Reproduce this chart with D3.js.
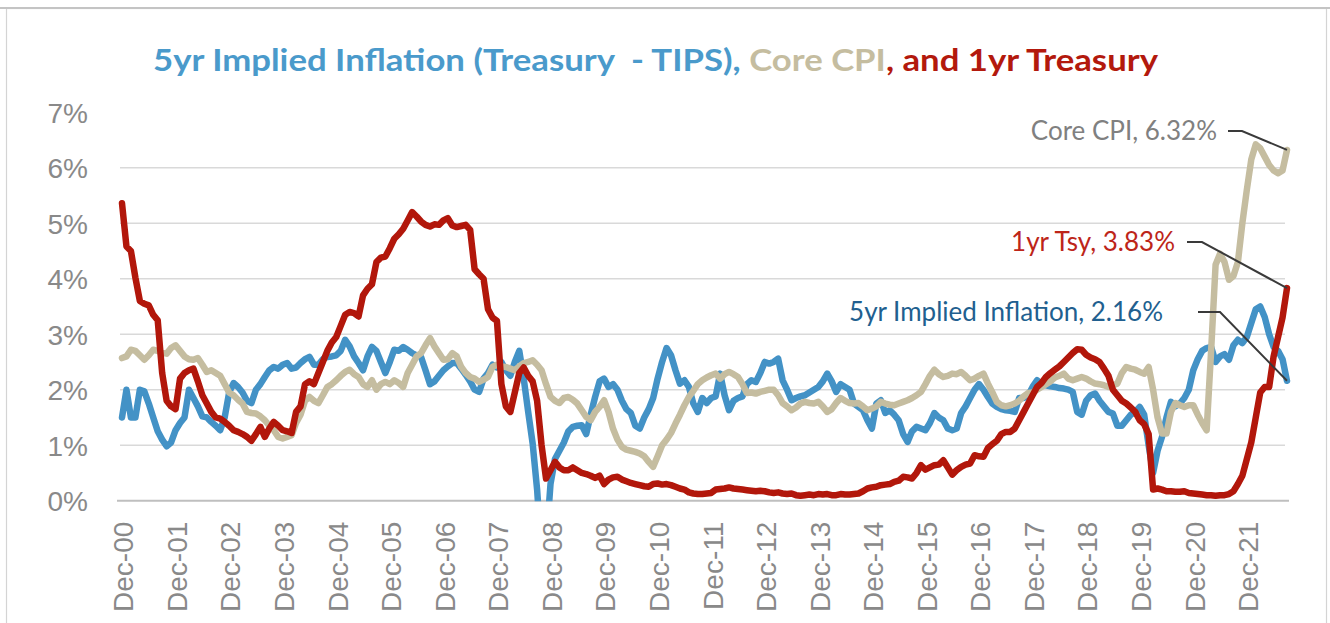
<!DOCTYPE html>
<html>
<head>
<meta charset="utf-8">
<script src="https://cdn.jsdelivr.net/npm/d3@7"></script>
<style>
  html, body { margin: 0; padding: 0; background: #ffffff; }
  svg { display: block; }
</style>
</head>
<body>
<script>
// ---------------- DATA ----------------
// Monthly observations from Dec-2000 onward (one value per month)
const tickLabels = ["Dec-00","Dec-01","Dec-02","Dec-03","Dec-04","Dec-05","Dec-06","Dec-07",
  "Dec-08","Dec-09","Dec-10","Dec-11","Dec-12","Dec-13","Dec-14","Dec-15","Dec-16","Dec-17",
  "Dec-18","Dec-19","Dec-20","Dec-21"];
const yTickValues = [0, 1, 2, 3, 4, 5, 6, 7];

const impliedInflation5y = [
  1.50,2.00,1.50,1.50,2.00,1.97,1.75,1.50,1.25,1.10,
  0.98,1.05,1.27,1.40,1.50,2.00,1.85,1.70,1.52,1.50,
  1.42,1.35,1.27,1.50,1.95,2.12,2.05,1.95,1.80,1.76,
  2.00,2.10,2.23,2.35,2.41,2.38,2.45,2.48,2.38,2.40,
  2.48,2.55,2.59,2.45,2.45,2.55,2.59,2.60,2.62,2.70,
  2.90,2.78,2.60,2.48,2.35,2.60,2.77,2.70,2.50,2.30,
  2.50,2.72,2.70,2.77,2.72,2.66,2.62,2.59,2.35,2.10,
  2.15,2.25,2.35,2.42,2.48,2.48,2.38,2.27,2.15,2.00,
  1.96,2.20,2.30,2.45,2.40,2.50,2.35,2.25,2.50,2.70,
  2.20,1.60,1.03,0.20,-1.00,-0.80,0.30,0.75,0.90,1.05,
  1.25,1.33,1.35,1.36,1.20,1.55,1.87,2.15,2.20,2.05,
  2.10,2.00,1.80,1.65,1.58,1.35,1.30,1.50,1.65,1.85,
  2.20,2.50,2.75,2.62,2.35,2.11,2.17,2.05,1.75,1.60,
  1.85,1.76,1.85,1.88,2.29,1.90,1.63,1.80,1.85,1.88,
  2.10,2.17,2.14,2.30,2.50,2.47,2.50,2.56,2.17,2.00,
  1.81,1.85,1.88,1.90,1.95,2.00,2.05,2.15,2.29,2.15,
  1.96,2.10,2.05,2.00,1.75,1.69,1.63,1.45,1.30,1.75,
  1.81,1.58,1.63,1.55,1.45,1.20,1.06,1.25,1.33,1.30,
  1.27,1.40,1.58,1.50,1.45,1.30,1.27,1.30,1.58,1.70,
  1.85,2.00,2.10,2.00,1.87,1.75,1.69,1.65,1.63,1.62,
  1.60,1.85,1.85,1.90,2.05,2.17,2.10,2.08,2.06,2.05,
  2.03,2.02,2.00,1.96,1.60,1.55,1.80,1.90,1.93,1.80,
  1.70,1.60,1.57,1.35,1.35,1.45,1.55,1.60,1.69,1.55,
  1.00,0.50,0.90,1.15,1.50,1.78,1.70,1.75,1.85,2.00,
  2.35,2.55,2.70,2.75,2.77,2.50,2.60,2.64,2.54,2.80,
  2.90,2.84,2.95,3.20,3.45,3.50,3.31,3.00,2.77,2.70,
  2.55,2.16
];

const coreCPI = [
  2.57,2.60,2.72,2.70,2.62,2.54,2.62,2.72,2.70,2.66,
  2.65,2.75,2.80,2.70,2.60,2.55,2.54,2.57,2.45,2.32,
  2.35,2.30,2.25,2.10,1.95,1.90,1.82,1.75,1.60,1.58,
  1.57,1.52,1.45,1.35,1.27,1.15,1.12,1.15,1.18,1.40,
  1.55,1.80,1.87,1.80,1.76,1.90,2.05,2.10,2.17,2.25,
  2.32,2.36,2.28,2.23,2.10,2.05,2.17,2.00,2.10,2.14,
  2.10,2.17,2.12,2.05,2.30,2.45,2.60,2.66,2.80,2.93,
  2.78,2.66,2.54,2.55,2.66,2.60,2.41,2.30,2.23,2.20,
  2.14,2.18,2.23,2.41,2.45,2.42,2.41,2.38,2.35,2.42,
  2.48,2.50,2.53,2.45,2.35,2.10,1.87,1.80,1.76,1.85,
  1.87,1.82,1.75,1.63,1.51,1.45,1.60,1.69,1.81,1.60,
  1.30,1.10,0.97,0.92,0.90,0.88,0.85,0.80,0.70,0.61,
  0.80,1.00,1.10,1.22,1.39,1.55,1.72,1.87,1.98,2.10,
  2.17,2.22,2.26,2.29,2.20,2.28,2.32,2.28,2.23,2.10,
  1.94,1.95,1.93,1.96,1.98,2.00,2.00,1.90,1.76,1.70,
  1.63,1.68,1.75,1.78,1.76,1.75,1.78,1.70,1.60,1.65,
  1.76,1.85,1.80,1.76,1.75,1.76,1.70,1.63,1.66,1.70,
  1.78,1.75,1.73,1.72,1.75,1.78,1.81,1.85,1.90,1.96,
  2.10,2.25,2.36,2.28,2.23,2.25,2.29,2.28,2.32,2.25,
  2.17,2.20,2.25,2.29,2.11,1.95,1.78,1.72,1.70,1.72,
  1.75,1.80,1.88,1.94,1.95,2.00,2.05,2.10,2.15,2.22,
  2.25,2.29,2.20,2.17,2.20,2.23,2.20,2.15,2.11,2.10,
  2.08,2.05,2.08,2.11,2.30,2.41,2.38,2.36,2.32,2.29,
  2.41,2.00,1.50,1.21,1.21,1.60,1.76,1.72,1.69,1.72,
  1.72,1.55,1.40,1.27,2.70,4.25,4.45,4.30,3.98,4.05,
  4.30,5.00,5.60,6.15,6.42,6.35,6.20,6.05,5.95,5.90,
  5.95,6.32
];

const treasury1y = [
  5.36,4.58,4.50,4.02,3.60,3.55,3.52,3.35,3.25,2.30,
  1.80,1.70,1.65,2.20,2.30,2.35,2.38,2.15,1.90,1.75,
  1.60,1.50,1.48,1.42,1.35,1.27,1.24,1.20,1.15,1.08,
  1.20,1.33,1.15,1.30,1.42,1.35,1.27,1.25,1.22,1.60,
  1.70,2.10,2.15,2.10,2.30,2.50,2.70,2.85,2.95,3.15,
  3.35,3.40,3.38,3.32,3.70,3.82,3.90,4.30,4.38,4.40,
  4.55,4.72,4.80,4.90,5.05,5.20,5.12,5.03,4.97,4.94,
  4.98,4.97,5.05,5.09,4.96,4.93,4.95,4.97,4.88,4.17,
  4.08,4.00,3.45,3.30,3.24,2.10,1.70,1.60,1.95,2.30,
  2.40,2.25,2.15,1.80,1.00,0.40,0.55,0.70,0.60,0.55,
  0.55,0.60,0.55,0.50,0.48,0.45,0.41,0.45,0.30,0.38,
  0.42,0.43,0.38,0.35,0.32,0.30,0.28,0.26,0.25,0.30,
  0.31,0.29,0.30,0.28,0.25,0.22,0.20,0.15,0.13,0.12,
  0.12,0.13,0.14,0.20,0.21,0.22,0.24,0.22,0.21,0.20,
  0.19,0.18,0.17,0.18,0.17,0.15,0.14,0.15,0.13,0.12,
  0.13,0.10,0.09,0.10,0.11,0.10,0.12,0.11,0.12,0.10,
  0.10,0.12,0.11,0.11,0.12,0.13,0.17,0.22,0.24,0.25,
  0.28,0.29,0.30,0.34,0.36,0.43,0.42,0.40,0.50,0.64,
  0.56,0.60,0.64,0.65,0.73,0.60,0.47,0.55,0.61,0.65,
  0.67,0.82,0.80,0.79,0.95,1.02,1.08,1.20,1.24,1.24,
  1.30,1.45,1.60,1.75,1.90,2.05,2.12,2.23,2.30,2.36,
  2.42,2.50,2.58,2.66,2.73,2.72,2.63,2.58,2.55,2.50,
  2.38,2.25,2.00,1.90,1.80,1.75,1.68,1.60,1.45,1.38,
  1.20,0.20,0.22,0.20,0.17,0.17,0.16,0.16,0.17,0.14,
  0.13,0.12,0.11,0.10,0.10,0.09,0.10,0.10,0.12,0.17,
  0.30,0.45,0.75,1.05,1.50,1.95,2.05,2.05,2.60,2.95,
  3.30,3.83
];

const seriesNames = ["5yr Implied Inflation", "Core CPI", "1yr Tsy"];
const endLabels = ["5yr Implied Inflation, 2.16%", "Core CPI, 6.32%", "1yr Tsy, 3.83%"];

// ---------------- CHART ----------------
const W = 1330, H = 623;
const svg = d3.select("body").append("svg").attr("width", W).attr("height", H);

// frame
svg.append("rect").attr("x", 6.5).attr("y", 8.5).attr("width", 1320).attr("height", 640)
  .attr("fill", "none").attr("stroke", "#d4d4d4").attr("stroke-width", 1.2);
svg.append("line").attr("x1", 0).attr("x2", W).attr("y1", 8).attr("y2", 8)
  .attr("stroke", "#c4c4c4").attr("stroke-width", 2);

const n = treasury1y.length;
const x = d3.scaleLinear().domain([0, n - 1]).range([122, 1287]);
const y = d3.scaleLinear().domain([0, 7]).range([500.7, 112.2]);

// gridlines
svg.append("g").selectAll("line").data(yTickValues.filter(v => v > 0 && v < 7)).join("line")
  .attr("x1", 120).attr("x2", 1285)
  .attr("y1", d => y(d)).attr("y2", d => y(d))
  .attr("stroke", "#d9d9d9").attr("stroke-width", 1.5);
// zero axis line
svg.append("line").attr("x1", 117).attr("x2", 1289).attr("y1", y(0)).attr("y2", y(0))
  .attr("stroke", "#bfbfbf").attr("stroke-width", 2);

// y axis labels
const yAxis = d3.axisLeft(y).tickValues(yTickValues).tickFormat(d => d + "%").tickSize(0).tickPadding(0);
const gy = svg.append("g").attr("transform", "translate(88,0)").call(yAxis);
gy.select(".domain").remove();
gy.selectAll("text").attr("dy", "0.36em")
  .style("font-family", "'Liberation Sans', Arial, sans-serif").style("font-size", "28px").attr("fill", "#898989");

// x axis labels
const tickIdx = tickLabels.map((_, i) => i * 12);
const xAxis = d3.axisBottom(x).tickValues(tickIdx).tickFormat((d, i) => tickLabels[i]).tickSize(0);
const gx = svg.append("g").attr("transform", `translate(0,${y(0)})`).call(xAxis);
gx.select(".domain").remove();
gx.selectAll("text")
  .attr("transform", "rotate(-90)")
  .attr("x", -21).attr("y", 1).attr("dy", "0.35em")
  .style("text-anchor", "end")
  .style("font-family", "'Liberation Sans', Arial, sans-serif").style("font-size", "28px").attr("fill", "#898989");

// clip
svg.append("clipPath").attr("id", "plotclip").append("rect")
  .attr("x", 100).attr("y", 90).attr("width", 1210).attr("height", y(0) - 90 + 0.5);

const line = d3.line().x((d, i) => x(i)).y(d => y(d));
const seriesData = [impliedInflation5y, coreCPI, treasury1y];
const colors = ["#4392c6", "#c5bda0", "#b2170b"];
const plot = svg.append("g").attr("clip-path", "url(#plotclip)");
plot.selectAll("path").data(seriesData).join("path")
  .attr("d", line)
  .attr("fill", "none")
  .attr("stroke", (d, i) => colors[i])
  .attr("stroke-width", 6.5)
  .attr("stroke-linejoin", "round")
  .attr("stroke-linecap", "round");

// end labels with leader lines
const lastI = n - 1;
const labelSpecs = [
  { text: endLabels[0], value: impliedInflation5y[lastI], tx: 1163, ty: 312, lx: 1198, lx2: 1220, color: "#215f8f" },
  { text: endLabels[1], value: coreCPI[lastI], tx: 1217, ty: 131, lx: 1228, lx2: 1242, color: "#808080" },
  { text: endLabels[2], value: treasury1y[lastI], tx: 1175, ty: 242, lx: 1187, lx2: 1202, color: "#bd2519" }
];
const ann = svg.append("g");
ann.selectAll("polyline").data(labelSpecs).join("polyline")
  .attr("points", d => `${d.lx},${d.ty} ${d.lx2},${d.ty} ${x(lastI)},${y(d.value)}`)
  .attr("fill", "none").attr("stroke", "#3a3a3a").attr("stroke-width", 2);
ann.selectAll("text").data(labelSpecs).join("text")
  .attr("x", d => d.tx).attr("y", d => d.ty).attr("dy", "0.36em")
  .attr("text-anchor", "end")
  .style("font-family", "Lato, 'Open Sans', sans-serif").style("font-size", "26px")
  .attr("fill", d => d.color)
  .text(d => d.text);

// title
const title = svg.append("text")
  .attr("x", 153).attr("y", 71)
  .attr("textLength", 1005).attr("lengthAdjust", "spacingAndGlyphs")
  .style("font-family", "Lato, 'Open Sans', sans-serif").style("font-size", "31px").style("font-weight", "bold")
  .style("white-space", "pre");
title.append("tspan").attr("fill", "#4a9acb").text("5yr Implied Inflation (Treasury  - TIPS), ");
title.append("tspan").attr("fill", "#c5bda0").text("Core CPI");
title.append("tspan").attr("fill", "#b3190d").text(", and 1yr Treasury");
</script>
</body>
</html>
